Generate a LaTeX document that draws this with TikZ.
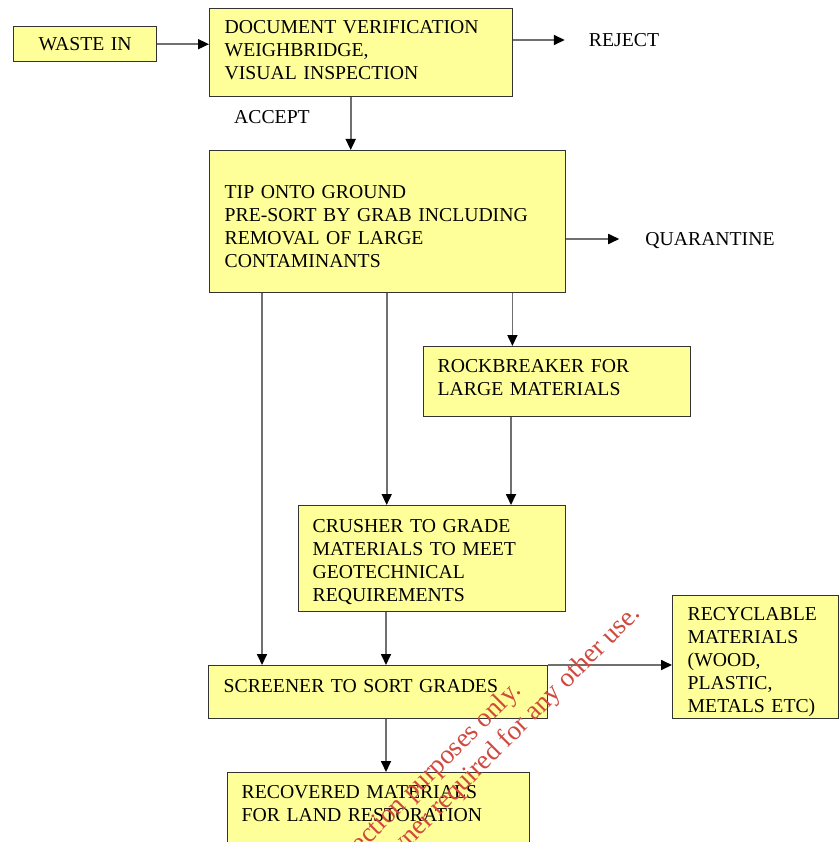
\documentclass[tikz,border=0pt]{standalone}
\usepackage{fontspec}
\setmainfont{Liberation Serif}
\usetikzlibrary{arrows.meta, positioning}
\definecolor{boxyellow}{RGB}{255,255,153}
\definecolor{linegray}{RGB}{112,112,112}
\definecolor{stampred}{RGB}{208,72,62}

\begin{document}
\begin{tikzpicture}[
		x=1pt, y=-1pt,
		every node/.style={font=\fontsize{19.7}{23}\selectfont},
		stage/.style={draw=black!80, line width=1.4pt, fill=boxyellow, anchor=north west, align=left, inner xsep=15pt, inner ysep=0pt, text height=13pt},
		flow/.style={-{Triangle[length=11pt, width=10pt, color=black]}, linegray, line width=1.7pt},
		tag/.style={inner sep=0pt, text height=13pt, text depth=0pt},
		notice/.style={text=stampred, font=\fontsize{27}{30}\selectfont, align=center, inner sep=0pt, rotate=45}
	]
	\useasboundingbox (0,0) rectangle (839,842);
	\clip (0,0) rectangle (839,842);

	\node[stage, align=center, text width=113pt, minimum height=35pt, text depth=0pt] (waste) at (13,26) {WASTE IN};
	\node[stage, text width=273pt, minimum height=88pt, text depth=52pt] (check) at (209,8) {DOCUMENT VERIFICATION\\WEIGHBRIDGE,\\VISUAL INSPECTION};
	\node[tag] (reject) at (624,40) {REJECT};
	\node[tag] (accept) at (272,117) {ACCEPT};
	\node[stage, text width=326pt, minimum height=142pt, text depth=60pt] (tip) at (209,150) {TIP ONTO GROUND\\PRE-SORT BY GRAB INCLUDING\\REMOVAL OF LARGE\\CONTAMINANTS};
	\node[tag] (quar) at (710,239) {QUARANTINE};
	\node[stage, inner xsep=14pt, text width=239pt, minimum height=70pt, text depth=32pt] (rock) at (423,346) {ROCKBREAKER FOR\\LARGE MATERIALS};
	\node[stage, inner xsep=14pt, text width=239pt, minimum height=106pt, text depth=66pt] (crush) at (298,505) {CRUSHER TO GRADE\\MATERIALS TO MEET\\GEOTECHNICAL\\REQUIREMENTS};
	\node[stage, text width=309pt, minimum height=53pt, text depth=13pt] (screen) at (208,665) {SCREENER TO SORT GRADES};
	\node[stage, text width=136pt, minimum height=123pt, text depth=87pt] (recyc) at (672,595) {RECYCLABLE\\MATERIALS\\(WOOD,\\PLASTIC,\\METALS ETC)};
	\node[stage, inner xsep=14pt, text width=274pt, minimum height=80pt, text depth=42pt] (recov) at (227,772) {RECOVERED MATERIALS\\FOR LAND RESTORATION};

	\draw[flow] (waste.east) -- (waste.east -| check.west);
	\draw[flow, shorten >=24pt] (check.east |- reject.west) -- (reject.west);
	\draw[flow] ([xshift=-10.5pt]check.south) -- ([xshift=-10.5pt]check.south |- tip.north);
	\draw[flow, shorten >=26pt] (tip.east |- quar.west) -- (quar.west);
	\draw[flow] ([xshift=53pt]tip.south west) -- ([xshift=53pt]tip.south west |- screen.north);
	\draw[flow] ([xshift=-1pt]tip.south) -- ([xshift=-1pt]tip.south |- crush.north);
	\draw[flow] ([xshift=-54pt]tip.south east) -- ([xshift=-54pt]tip.south east |- rock.north);
	\draw[flow] ([xshift=88pt]rock.south west) -- ([xshift=88pt]rock.south west |- crush.north);
	\draw[flow] ([xshift=88pt]crush.south west) -- ([xshift=88pt]crush.south west |- screen.north);
	\draw[flow] (screen.north east) -- (screen.north east -| recyc.west);
	\draw[flow] ([xshift=178pt]screen.south west) -- ([xshift=178pt]screen.south west |- recov.north);

	\node[notice] (stamp) at (416,810) {For inspection purposes only.\\Consent of copyright owner required for any other use.};
\end{tikzpicture}
\end{document}
